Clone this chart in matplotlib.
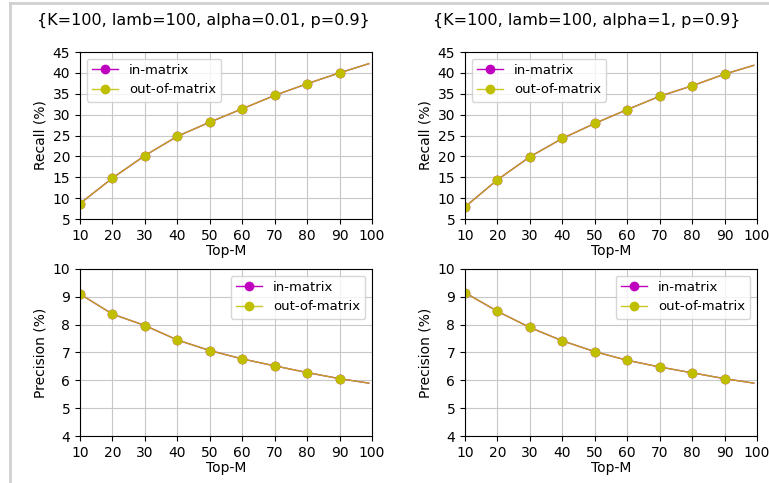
import matplotlib
matplotlib.use('Agg')
import matplotlib.pyplot as plt
from matplotlib.lines import Line2D

topm = [10, 20, 30, 40, 50, 60, 70, 80, 90, 99]

# alpha = 0.01
recall_a = [8.7, 14.8, 20.2, 24.8, 28.2, 31.4, 34.6, 37.4, 40.0, 42.2]
prec_a = [9.10, 8.38, 7.97, 7.45, 7.07, 6.77, 6.52, 6.28, 6.06, 5.90]
# alpha = 1
recall_b = [7.9, 14.4, 19.9, 24.3, 27.9, 31.2, 34.4, 36.9, 39.7, 41.8]
prec_b = [9.15, 8.48, 7.90, 7.42, 7.03, 6.72, 6.48, 6.27, 6.06, 5.90]

titles = ['{K=100, lamb=100, alpha=0.01, p=0.9}',
          '{K=100, lamb=100, alpha=1, p=0.9}']

W, H = 769, 483
fig = plt.figure(figsize=(W / 100, H / 100), dpi=100)

def box(x0, y0, x1, y1):
    return [x0 / W, 1 - y1 / H, (x1 - x0) / W, (y1 - y0) / H]

def draw(ax, vals, ylabel, ylim, yticks, loc):
    marks = list(range(len(topm) - 1))
    ax.plot(topm, vals, '-o', color='m', lw=1, ms=6, markevery=marks, label='in-matrix')
    ax.plot(topm, vals, '-o', color=(0.75, 0.75, 0, 0.85), mfc='y', mec='y',
            lw=1, ms=6, markevery=marks, label='out-of-matrix')
    ax.set_xlim(10, 100)
    ax.set_ylim(*ylim)
    ax.set_xticks(range(10, 101, 10))
    ax.set_yticks(yticks)
    ax.set_xlabel('Top-M', labelpad=1)
    ax.set_ylabel(ylabel)
    ax.grid(True, color='#c8c8c8')
    ax.legend(loc=loc, fontsize=9.5)

cols = [(80, 372), (465, 757)]
data = [(recall_a, prec_a), (recall_b, prec_b)]
for (x0, x1), (rec, pre), t, cx in zip(cols, data, titles, [203, 587]):
    ax1 = fig.add_axes(box(x0, 52, x1, 219))
    draw(ax1, rec, 'Recall (%)', (5, 45), range(5, 46, 5), 'upper left')
    ax2 = fig.add_axes(box(x0, 269, x1, 436))
    draw(ax2, pre, 'Precision (%)', (4, 10), range(4, 11), 'upper right')
    fig.text(cx / W, 1 - 20 / H, t, ha='center', va='center', fontsize=11.5)

# light frame on the left and top edges
fig.add_artist(Line2D([10 / W, 10 / W], [0, 1 - 3 / H], color='#d0d0d0', lw=2))
fig.add_artist(Line2D([10 / W, 1], [1 - 3 / H, 1 - 3 / H], color='#d0d0d0', lw=2))

fig.savefig('out.png', dpi=100)
